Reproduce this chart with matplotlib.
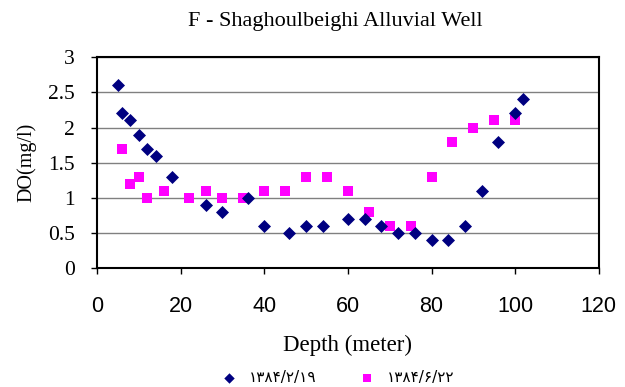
import matplotlib.pyplot as plt

# sampling 1384/2/19
depth_a = [5, 6, 8, 10, 12, 14, 18, 26, 30, 36, 40, 46, 50, 54,
           60, 64, 68, 72, 76, 80, 84, 88, 92, 96, 100, 102]
do_a = [2.6, 2.2, 2.1, 1.9, 1.7, 1.6, 1.3, 0.9, 0.8, 1.0, 0.6, 0.5, 0.6, 0.6,
        0.7, 0.7, 0.6, 0.5, 0.5, 0.4, 0.4, 0.6, 1.1, 1.8, 2.2, 2.4]

# sampling 1384/6/22
depth_b = [6, 8, 10, 12, 16, 22, 26, 30, 35, 40, 45, 50, 55, 60,
           65, 70, 75, 80, 85, 90, 95, 100]
do_b = [1.7, 1.2, 1.3, 1.0, 1.1, 1.0, 1.1, 1.0, 1.0, 1.1, 1.1, 1.3, 1.3, 1.1,
        0.8, 0.6, 0.6, 1.3, 1.8, 2.0, 2.1, 2.1]

labels = ['۱۳۸۴/۲/۱۹', '۱۳۸۴/۶/۲۲']
xticks = [0, 20, 40, 60, 80, 100, 120]
yticks = [0, 0.5, 1, 1.5, 2, 2.5, 3]

fig = plt.figure(figsize=(6.25, 3.87), dpi=100)
ax = fig.add_axes([0.1552, 0.3075, 0.8028, 0.5445])

ax.scatter(depth_b, do_b, marker='s', s=55, color='#FF00FF', label=labels[1], zorder=3, linewidths=0)
ax.scatter(depth_a, do_a, marker='D', s=44, color='#000080', label=labels[0], zorder=4, linewidths=0)

ax.set_xlim(0, 120)
ax.set_ylim(0, 3)
ax.set_xticks(xticks)
ax.set_yticks(yticks)
ax.set_xticklabels([str(v) for v in xticks], fontfamily='Liberation Sans', fontsize=15.5)
ax.set_yticklabels(['0', '0.5', '1', '1.5', '2', '2.5', '3'], fontfamily='Liberation Serif', fontsize=15.5)
ax.tick_params(axis='both', direction='out', length=4, width=1, color='black')
ax.tick_params(axis='x', pad=16)
ax.tick_params(axis='y', pad=12)

ax.grid(axis='y', color='#808080', linewidth=1)
ax.set_axisbelow(True)
for s in ax.spines.values():
    s.set_color('black')
    s.set_linewidth(1.5)

ax.set_xlabel('Depth (meter)', fontfamily='Liberation Serif', fontsize=16.5, labelpad=13)
ax.set_ylabel('DO(mg/l)', fontfamily='Liberation Serif', fontsize=14.5, labelpad=8)
fig.text(0.536, 0.945, 'F - Shaghoulbeighi Alluvial Well', ha='center', va='center',
         fontfamily='Liberation Serif', fontsize=16)

h, l = ax.get_legend_handles_labels()
fig.legend([h[1], h[0]], [l[1], l[0]], loc='center', bbox_to_anchor=(0.535, 0.025),
           ncol=2, frameon=False, prop={'family': 'DejaVu Sans', 'size': 11},
           handletextpad=0.3, columnspacing=2.3, markerscale=0.8)

fig.savefig('out.png', dpi=100)
